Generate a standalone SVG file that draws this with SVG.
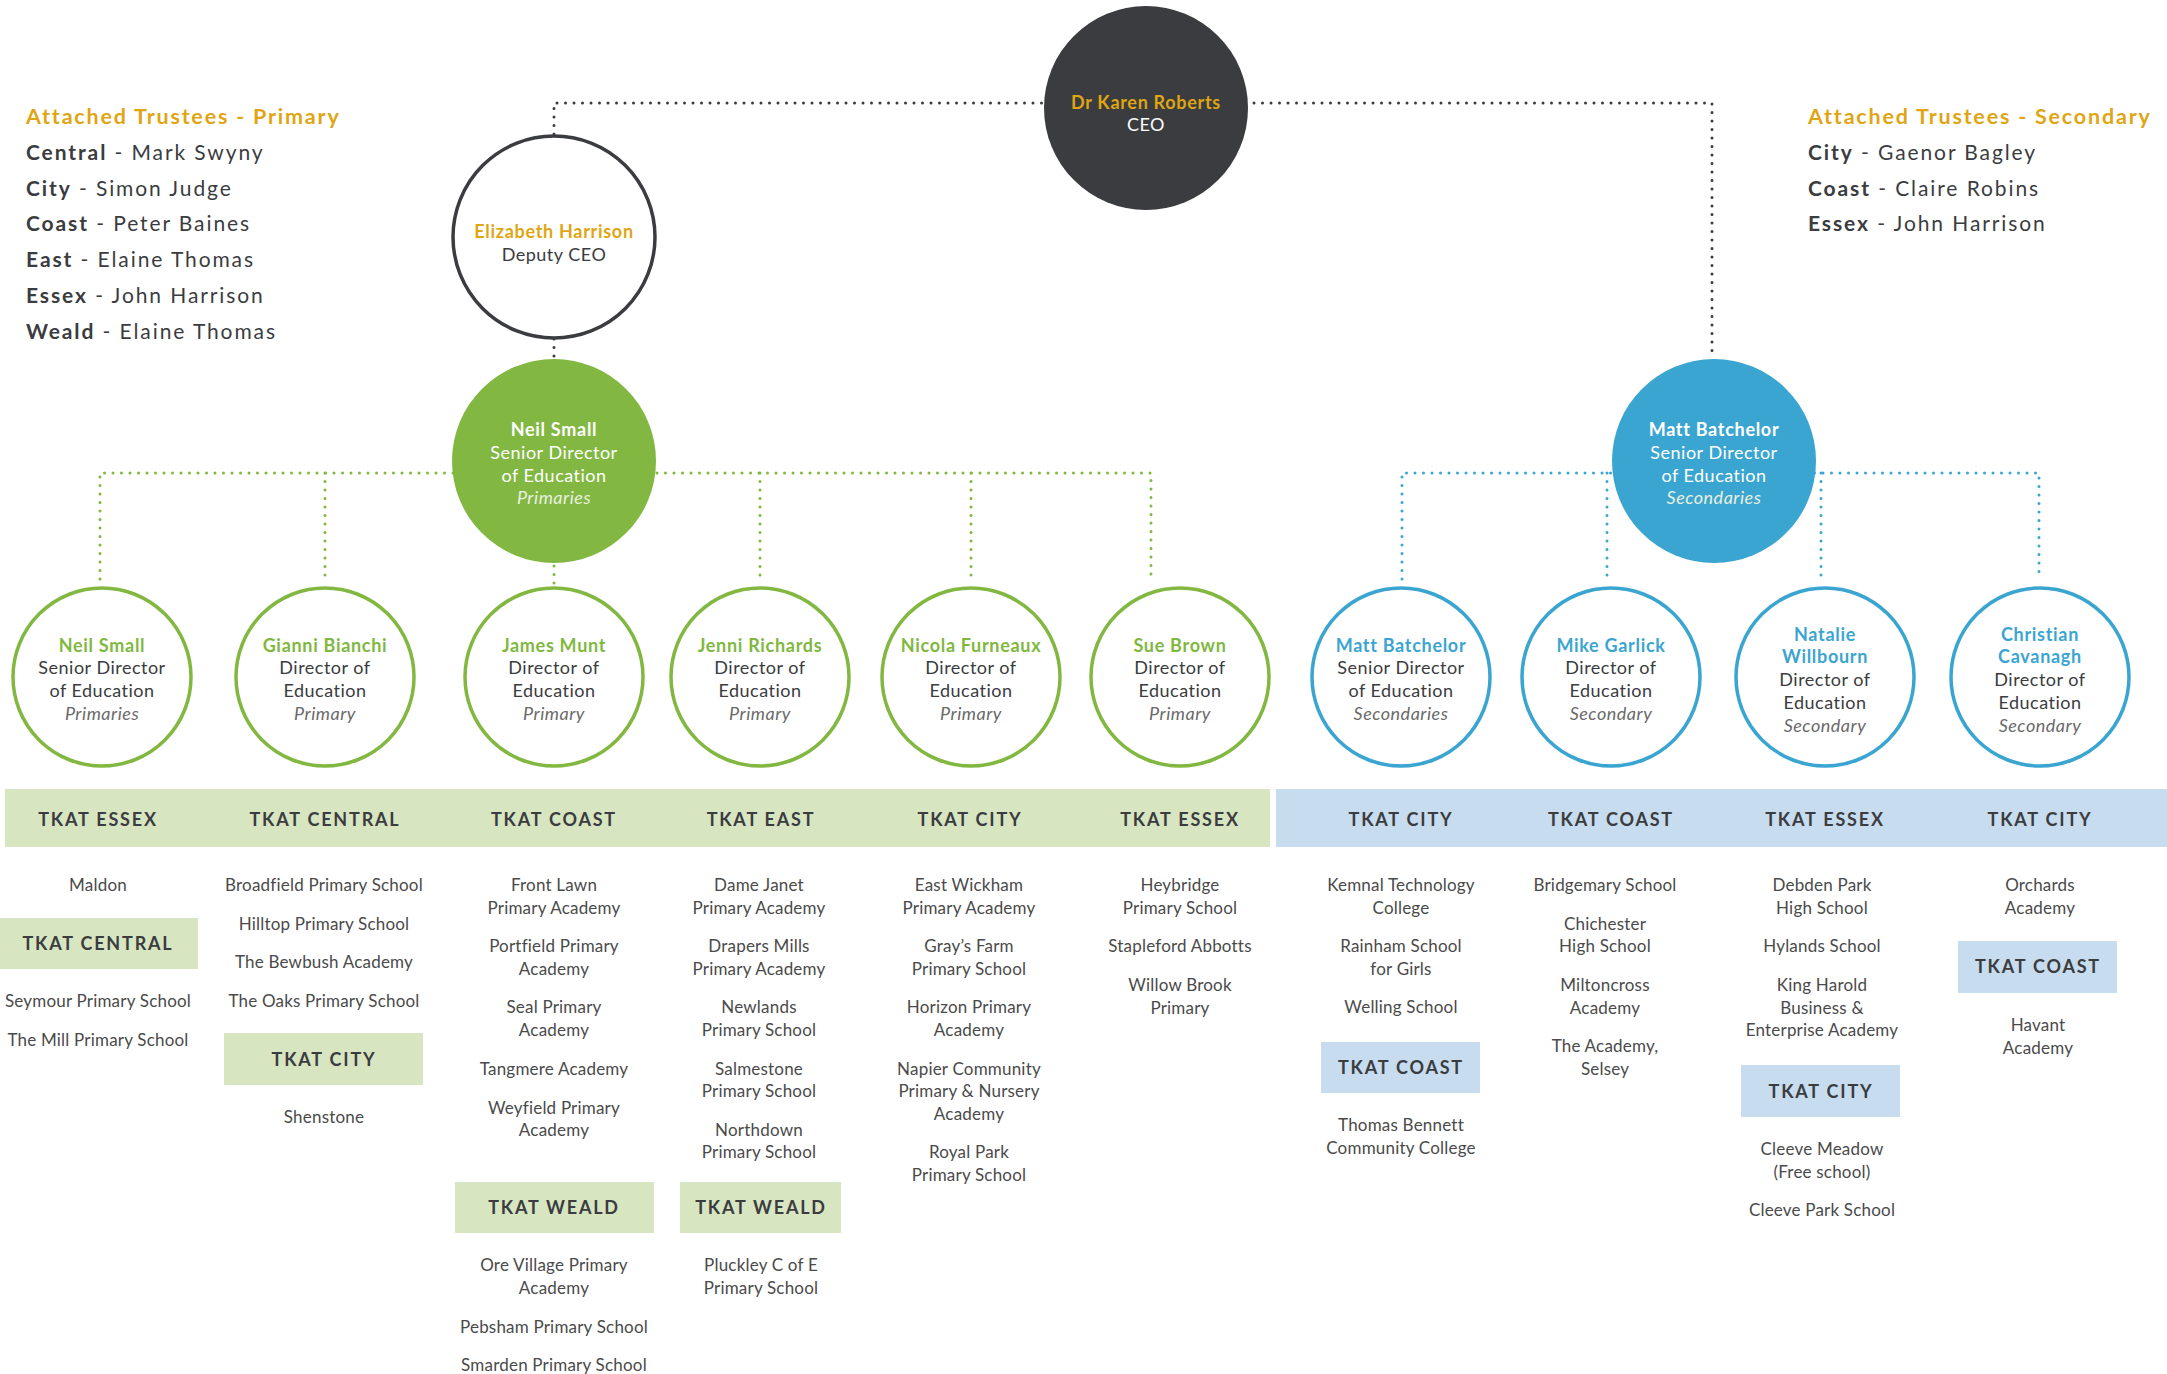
<svg xmlns="http://www.w3.org/2000/svg" width="2167" height="1374" viewBox="0 0 2167 1374">
<style>
text{font-family:Lato,"Open Sans","Liberation Sans",sans-serif}
.bg{fill:#ffffff}
.dot{fill:none;stroke-width:3;stroke-linecap:round;stroke-dasharray:0 8.5}
.dk{stroke:#3b3c40}
.gr{stroke:#7fb83f}
.bl{stroke:#3ba5d1}
.ceo{fill:#3b3c40}
.dep{fill:#fff;stroke:#3b3c40;stroke-width:3.5}
.gfill{fill:#82b841}
.bfill{fill:#3ba5d1}
.gring{fill:#fff;stroke:#82b841;stroke-width:3.5}
.bring{fill:#fff;stroke:#3ba5d1;stroke-width:3.5}
.c{text-anchor:middle;font-size:18px;letter-spacing:0.5px}
.nm{font-weight:700;letter-spacing:0.7px}
.gold{fill:#dfa512}
.w{fill:#ffffff}
.gtx{fill:#7fb83f}
.btx{fill:#3ba5d1}
.body{fill:#3b3c40}
.it{font-style:italic;fill:#6a6a6a}
.itw{font-style:italic;fill:#e8f0e0}
.gband{fill:#d7e6c0}
.bband{fill:#c7ddef}
.hd{text-anchor:middle;font-size:18px;font-weight:700;letter-spacing:1.8px;fill:#3b3c40}
.sc{text-anchor:middle;font-size:17px;fill:#4a4a4a;letter-spacing:0.2px}
.tt{font-size:21px;letter-spacing:1.9px;fill:#3b3c40}
.tth{font-size:21.5px;letter-spacing:1.8px;font-weight:700;fill:#dfa512}
.b{font-weight:700}
</style>
<rect class="bg" x="0" y="0" width="2167" height="1374"/>

<g id="trustees-primary">
<text class="tth" x="26" y="124">Attached Trustees - Primary</text>
<text class="tt" x="26" y="160"><tspan class="b">Central</tspan> - Mark Swyny</text>
<text class="tt" x="26" y="196"><tspan class="b">City</tspan> - Simon Judge</text>
<text class="tt" x="26" y="231"><tspan class="b">Coast</tspan> - Peter Baines</text>
<text class="tt" x="26" y="267"><tspan class="b">East</tspan> - Elaine Thomas</text>
<text class="tt" x="26" y="303"><tspan class="b">Essex</tspan> - John Harrison</text>
<text class="tt" x="26" y="339"><tspan class="b">Weald</tspan> - Elaine Thomas</text>
</g>
<g id="trustees-secondary">
<text class="tth" x="1808" y="124">Attached Trustees - Secondary</text>
<text class="tt" x="1808" y="160"><tspan class="b">City</tspan> - Gaenor Bagley</text>
<text class="tt" x="1808" y="196"><tspan class="b">Coast</tspan> - Claire Robins</text>
<text class="tt" x="1808" y="231"><tspan class="b">Essex</tspan> - John Harrison</text>
</g>

<g id="connectors">
<path class="dot dk" d="M554,134 V103 H1712 V359"/>
<path class="dot dk" d="M554,339 V359"/>
<path class="dot gr" d="M100,579 V473 H1151 V579"/>
<path class="dot gr" d="M325,473 V579"/>
<path class="dot gr" d="M760,473 V579"/>
<path class="dot gr" d="M971,473 V579"/>
<path class="dot gr" d="M554,566 V584"/>
<path class="dot bl" d="M1402,579 V473 H2039 V579"/>
<path class="dot bl" d="M1607,473 V579"/>
<path class="dot bl" d="M1821,473 V579"/>
</g>

<g id="ceo">
<circle class="ceo" cx="1146" cy="108" r="102"/>
<text class="c nm gold" x="1146" y="109">Dr Karen Roberts</text>
<text class="c w" x="1146" y="131">CEO</text>
</g>
<g id="deputy-ceo">
<circle class="dep" cx="554" cy="237" r="101"/>
<text class="c nm gold" x="554" y="238">Elizabeth Harrison</text>
<text class="c body" x="554" y="261">Deputy CEO</text>
</g>
<g id="senior-primaries">
<circle class="gfill" cx="554" cy="461" r="102"/>
<text class="c nm w" x="554" y="436">Neil Small</text>
<text class="c w" x="554" y="459">Senior Director</text>
<text class="c w" x="554" y="482">of Education</text>
<text class="c itw" x="554" y="504">Primaries</text>
</g>
<g id="senior-secondaries">
<circle class="bfill" cx="1714" cy="461" r="102"/>
<text class="c nm w" x="1714" y="436">Matt Batchelor</text>
<text class="c w" x="1714" y="459">Senior Director</text>
<text class="c w" x="1714" y="482">of Education</text>
<text class="c itw" x="1714" y="504">Secondaries</text>
</g>

<g id="dir-neil-small">
<circle class="gring" cx="102" cy="677" r="89"/>
<text class="c nm gtx" x="102" y="652">Neil Small</text>
<text class="c body" x="102" y="674">Senior Director</text>
<text class="c body" x="102" y="697">of Education</text>
<text class="c it" x="102" y="720">Primaries</text>
</g>
<g id="dir-gianni-bianchi">
<circle class="gring" cx="325" cy="677" r="89"/>
<text class="c nm gtx" x="325" y="652">Gianni Bianchi</text>
<text class="c body" x="325" y="674">Director of</text>
<text class="c body" x="325" y="697">Education</text>
<text class="c it" x="325" y="720">Primary</text>
</g>
<g id="dir-james-munt">
<circle class="gring" cx="554" cy="677" r="89"/>
<text class="c nm gtx" x="554" y="652">James Munt</text>
<text class="c body" x="554" y="674">Director of</text>
<text class="c body" x="554" y="697">Education</text>
<text class="c it" x="554" y="720">Primary</text>
</g>
<g id="dir-jenni-richards">
<circle class="gring" cx="760" cy="677" r="89"/>
<text class="c nm gtx" x="760" y="652">Jenni Richards</text>
<text class="c body" x="760" y="674">Director of</text>
<text class="c body" x="760" y="697">Education</text>
<text class="c it" x="760" y="720">Primary</text>
</g>
<g id="dir-nicola-furneaux">
<circle class="gring" cx="971" cy="677" r="89"/>
<text class="c nm gtx" x="971" y="652">Nicola Furneaux</text>
<text class="c body" x="971" y="674">Director of</text>
<text class="c body" x="971" y="697">Education</text>
<text class="c it" x="971" y="720">Primary</text>
</g>
<g id="dir-sue-brown">
<circle class="gring" cx="1180" cy="677" r="89"/>
<text class="c nm gtx" x="1180" y="652">Sue Brown</text>
<text class="c body" x="1180" y="674">Director of</text>
<text class="c body" x="1180" y="697">Education</text>
<text class="c it" x="1180" y="720">Primary</text>
</g>
<g id="dir-matt-batchelor">
<circle class="bring" cx="1401" cy="677" r="89"/>
<text class="c nm btx" x="1401" y="652">Matt Batchelor</text>
<text class="c body" x="1401" y="674">Senior Director</text>
<text class="c body" x="1401" y="697">of Education</text>
<text class="c it" x="1401" y="720">Secondaries</text>
</g>
<g id="dir-mike-garlick">
<circle class="bring" cx="1611" cy="677" r="89"/>
<text class="c nm btx" x="1611" y="652">Mike Garlick</text>
<text class="c body" x="1611" y="674">Director of</text>
<text class="c body" x="1611" y="697">Education</text>
<text class="c it" x="1611" y="720">Secondary</text>
</g>
<g id="dir-natalie-willbourn">
<circle class="bring" cx="1825" cy="677" r="89"/>
<text class="c nm btx" x="1825" y="641">Natalie</text>
<text class="c nm btx" x="1825" y="663">Willbourn</text>
<text class="c body" x="1825" y="686">Director of</text>
<text class="c body" x="1825" y="709">Education</text>
<text class="c it" x="1825" y="732">Secondary</text>
</g>
<g id="dir-christian-cavanagh">
<circle class="bring" cx="2040" cy="677" r="89"/>
<text class="c nm btx" x="2040" y="641">Christian</text>
<text class="c nm btx" x="2040" y="663">Cavanagh</text>
<text class="c body" x="2040" y="686">Director of</text>
<text class="c body" x="2040" y="709">Education</text>
<text class="c it" x="2040" y="732">Secondary</text>
</g>

<g id="bands">
<rect class="gband" x="5" y="789" width="1265" height="58"/>
<rect class="bband" x="1276" y="789" width="891" height="58"/>
<text class="hd" x="98" y="826">TKAT ESSEX</text>
<text class="hd" x="325" y="826">TKAT CENTRAL</text>
<text class="hd" x="554" y="826">TKAT COAST</text>
<text class="hd" x="761" y="826">TKAT EAST</text>
<text class="hd" x="970" y="826">TKAT CITY</text>
<text class="hd" x="1180" y="826">TKAT ESSEX</text>
<text class="hd" x="1401" y="826">TKAT CITY</text>
<text class="hd" x="1611" y="826">TKAT COAST</text>
<text class="hd" x="1825" y="826">TKAT ESSEX</text>
<text class="hd" x="2040" y="826">TKAT CITY</text>
</g>

<g id="col-1">
<text class="sc" x="98" y="891">Maldon</text>
<rect class="gband" x="0" y="918" width="198" height="51"/>
<text class="hd" x="98" y="950">TKAT CENTRAL</text>
<text class="sc" x="98" y="1007">Seymour Primary School</text>
<text class="sc" x="98" y="1046">The Mill Primary School</text>
</g>
<g id="col-2">
<text class="sc" x="324" y="891">Broadfield Primary School</text>
<text class="sc" x="324" y="930">Hilltop Primary School</text>
<text class="sc" x="324" y="968">The Bewbush Academy</text>
<text class="sc" x="324" y="1007">The Oaks Primary School</text>
<rect class="gband" x="224" y="1033" width="199" height="52"/>
<text class="hd" x="324" y="1066">TKAT CITY</text>
<text class="sc" x="324" y="1123">Shenstone</text>
</g>
<g id="col-3">
<text class="sc" x="554" y="891">Front Lawn</text>
<text class="sc" x="554" y="914">Primary Academy</text>
<text class="sc" x="554" y="952">Portfield Primary</text>
<text class="sc" x="554" y="975">Academy</text>
<text class="sc" x="554" y="1013">Seal Primary</text>
<text class="sc" x="554" y="1036">Academy</text>
<text class="sc" x="554" y="1075">Tangmere Academy</text>
<text class="sc" x="554" y="1114">Weyfield Primary</text>
<text class="sc" x="554" y="1136">Academy</text>
<rect class="gband" x="455" y="1182" width="199" height="51"/>
<text class="hd" x="554" y="1214">TKAT WEALD</text>
<text class="sc" x="554" y="1271">Ore Village Primary</text>
<text class="sc" x="554" y="1294">Academy</text>
<text class="sc" x="554" y="1333">Pebsham Primary School</text>
<text class="sc" x="554" y="1371">Smarden Primary School</text>
</g>
<g id="col-4">
<text class="sc" x="759" y="891">Dame Janet</text>
<text class="sc" x="759" y="914">Primary Academy</text>
<text class="sc" x="759" y="952">Drapers Mills</text>
<text class="sc" x="759" y="975">Primary Academy</text>
<text class="sc" x="759" y="1013">Newlands</text>
<text class="sc" x="759" y="1036">Primary School</text>
<text class="sc" x="759" y="1075">Salmestone</text>
<text class="sc" x="759" y="1097">Primary School</text>
<text class="sc" x="759" y="1136">Northdown</text>
<text class="sc" x="759" y="1158">Primary School</text>
<rect class="gband" x="680" y="1182" width="161" height="51"/>
<text class="hd" x="761" y="1214">TKAT WEALD</text>
<text class="sc" x="761" y="1271">Pluckley C of E</text>
<text class="sc" x="761" y="1294">Primary School</text>
</g>
<g id="col-5">
<text class="sc" x="969" y="891">East Wickham</text>
<text class="sc" x="969" y="914">Primary Academy</text>
<text class="sc" x="969" y="952">Gray’s Farm</text>
<text class="sc" x="969" y="975">Primary School</text>
<text class="sc" x="969" y="1013">Horizon Primary</text>
<text class="sc" x="969" y="1036">Academy</text>
<text class="sc" x="969" y="1075">Napier Community</text>
<text class="sc" x="969" y="1097">Primary &amp; Nursery</text>
<text class="sc" x="969" y="1120">Academy</text>
<text class="sc" x="969" y="1158">Royal Park</text>
<text class="sc" x="969" y="1181">Primary School</text>
</g>
<g id="col-6">
<text class="sc" x="1180" y="891">Heybridge</text>
<text class="sc" x="1180" y="914">Primary School</text>
<text class="sc" x="1180" y="952">Stapleford Abbotts</text>
<text class="sc" x="1180" y="991">Willow Brook</text>
<text class="sc" x="1180" y="1014">Primary</text>
</g>
<g id="col-7">
<text class="sc" x="1401" y="891">Kemnal Technology</text>
<text class="sc" x="1401" y="914">College</text>
<text class="sc" x="1401" y="952">Rainham School</text>
<text class="sc" x="1401" y="975">for Girls</text>
<text class="sc" x="1401" y="1013">Welling School</text>
<rect class="bband" x="1321" y="1042" width="159" height="51"/>
<text class="hd" x="1401" y="1074">TKAT COAST</text>
<text class="sc" x="1401" y="1131">Thomas Bennett</text>
<text class="sc" x="1401" y="1154">Community College</text>
</g>
<g id="col-8">
<text class="sc" x="1605" y="891">Bridgemary School</text>
<text class="sc" x="1605" y="930">Chichester</text>
<text class="sc" x="1605" y="952">High School</text>
<text class="sc" x="1605" y="991">Miltoncross</text>
<text class="sc" x="1605" y="1014">Academy</text>
<text class="sc" x="1605" y="1052">The Academy,</text>
<text class="sc" x="1605" y="1075">Selsey</text>
</g>
<g id="col-9">
<text class="sc" x="1822" y="891">Debden Park</text>
<text class="sc" x="1822" y="914">High School</text>
<text class="sc" x="1822" y="952">Hylands School</text>
<text class="sc" x="1822" y="991">King Harold</text>
<text class="sc" x="1822" y="1014">Business &amp;</text>
<text class="sc" x="1822" y="1036">Enterprise Academy</text>
<rect class="bband" x="1741" y="1065" width="159" height="52"/>
<text class="hd" x="1821" y="1098">TKAT CITY</text>
<text class="sc" x="1822" y="1155">Cleeve Meadow</text>
<text class="sc" x="1822" y="1178">(Free school)</text>
<text class="sc" x="1822" y="1216">Cleeve Park School</text>
</g>
<g id="col-10">
<text class="sc" x="2040" y="891">Orchards</text>
<text class="sc" x="2040" y="914">Academy</text>
<rect class="bband" x="1958" y="941" width="159" height="52"/>
<text class="hd" x="2038" y="973">TKAT COAST</text>
<text class="sc" x="2038" y="1031">Havant</text>
<text class="sc" x="2038" y="1054">Academy</text>
</g>
</svg>
